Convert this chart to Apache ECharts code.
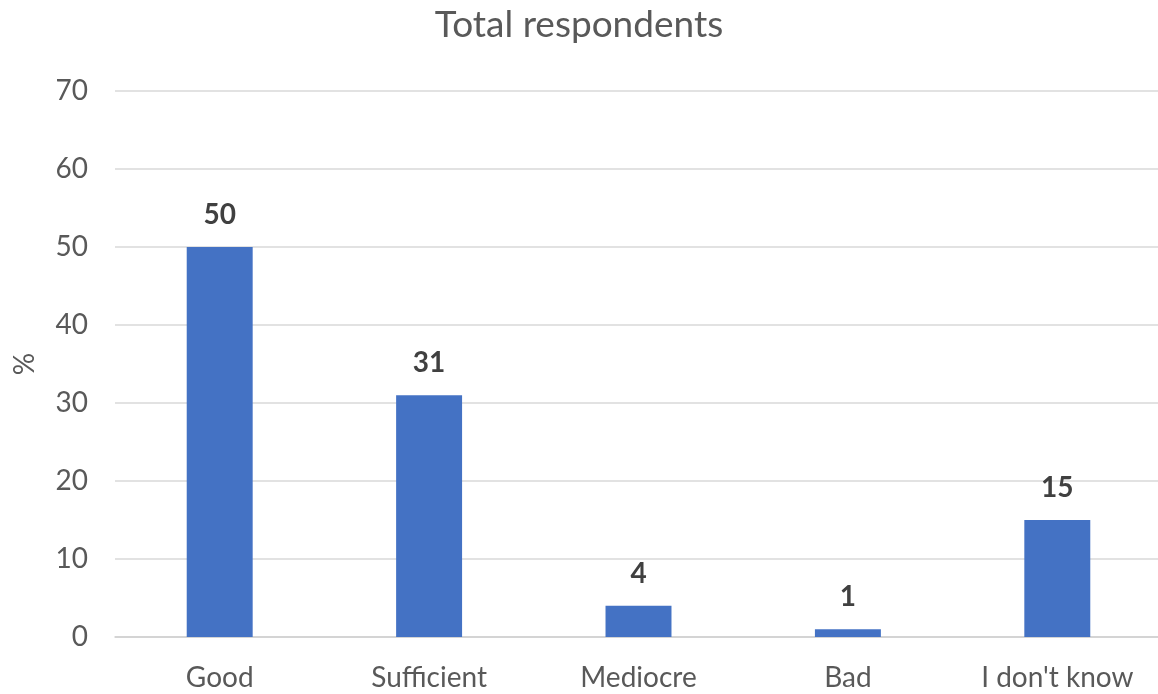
<!DOCTYPE html>
<html>
<head>
<meta charset="utf-8">
<script src="https://cdn.jsdelivr.net/npm/echarts@6/dist/echarts.min.js"></script>
<style>
  html, body { margin: 0; padding: 0; background: #ffffff; }
  #chart { width: 1158px; height: 694px; }
</style>
</head>
<body>
<div id="chart"></div>
<script>
// Survey answers, share of respondents in percent
const categories = ['Good', 'Sufficient', 'Mediocre', 'Bad', "I don't know"];
const shares = [50, 31, 4, 1, 15];
const yTicks = [0, 10, 20, 30, 40, 50, 60, 70];

const FONT = 'Lato, "Open Sans", sans-serif';

const chart = echarts.init(document.getElementById('chart'), null, { renderer: 'canvas' });
chart.setOption({
  backgroundColor: '#ffffff',
  animation: false,
  title: {
    text: 'Total respondents',
    left: 'center',
    top: 2,
    textStyle: { color: '#595959', fontSize: 37, fontWeight: 'normal', fontFamily: FONT }
  },
  grid: {
    left: 115, right: -4, top: 91, bottom: 57,
    containLabel: false,
    outerBoundsMode: 'none'
  },
  xAxis: {
    type: 'category',
    data: categories,
    axisTick: { show: false },
    axisLine: { show: true, lineStyle: { color: '#d0d0d0', width: 1.5 } },
    axisLabel: { color: '#595959', fontSize: 28, fontFamily: FONT, margin: 27 }
  },
  yAxis: {
    type: 'value',
    min: yTicks[0],
    max: yTicks[yTicks.length - 1],
    interval: 10,
    name: '%',
    nameLocation: 'middle',
    nameGap: 76,
    nameRotate: 90,
    nameTextStyle: { color: '#595959', fontSize: 28, fontFamily: FONT },
    axisLine: { show: false },
    axisTick: { show: false },
    axisLabel: { color: '#595959', fontSize: 28, fontFamily: FONT, margin: 27 },
    splitLine: { lineStyle: { color: '#d9d9d9', width: 1.5 } }
  },
  series: [{
    type: 'bar',
    data: shares,
    barWidth: '31.5%',
    itemStyle: { color: '#4472c4' },
    label: {
      show: true,
      position: 'top',
      distance: 18,
      color: '#404040',
      fontSize: 28,
      fontWeight: 'bold',
      fontFamily: FONT
    }
  }]
});
</script>
</body>
</html>
